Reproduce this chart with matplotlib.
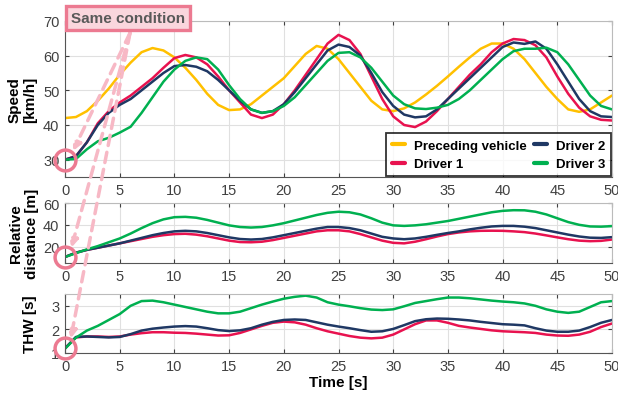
import numpy as np
import matplotlib.pyplot as plt

plt.rcParams['font.family'] = ['Liberation Sans', 'DejaVu Sans']

# time axis [s]
t = np.arange(0, 51)

# Speed [km/h]
speed_prec = [42.0, 42.3, 44.0, 47.0, 50.5, 54.5, 58.0, 61.0, 62.2, 61.5,
              59.5, 56.5, 53.0, 49.0, 45.8, 44.3, 44.5, 46.0, 48.5, 51.0,
              53.5, 57.0, 60.5, 62.8, 62.0, 59.0, 55.0, 51.0, 47.0, 44.5,
              44.0, 44.8, 46.5, 48.8, 51.3, 54.0, 56.8, 59.5, 62.0, 63.5,
              63.5, 62.0, 59.0, 55.0, 51.0, 47.5, 44.5, 43.8, 44.5, 46.5, 48.5]
speed_d1 = [30.0, 31.0, 35.0, 40.5, 44.0, 46.5, 48.5, 51.0, 53.5, 56.5,
            59.3, 60.2, 59.5, 57.5, 54.0, 50.0, 46.5, 43.0, 42.0, 43.0,
            46.0, 50.0, 54.5, 59.0, 63.5, 66.0, 64.5, 60.5, 54.0, 47.5,
            42.5, 40.0, 39.4, 41.0, 44.0, 47.5, 51.0, 54.5, 57.5, 61.0,
            63.5, 64.8, 64.5, 63.0, 59.5, 54.0, 49.0, 45.0, 42.5, 41.5, 41.3]
speed_d2 = [30.0, 31.0, 35.0, 40.0, 43.5, 45.8, 47.5, 50.0, 52.5, 55.0,
            57.0, 57.3, 56.8, 55.5, 53.0, 50.0, 47.0, 44.5, 43.5, 44.0,
            46.0, 49.5, 53.5, 57.5, 61.5, 63.2, 62.5, 60.0, 55.0, 49.5,
            45.5, 43.0, 42.2, 42.5, 44.5, 47.5, 50.5, 53.5, 56.5, 59.5,
            62.5, 63.8, 63.4, 64.1, 62.0, 57.5, 52.5, 47.5, 44.0, 42.5, 42.3]
speed_d3 = [30.0, 30.2, 33.0, 35.3, 36.3, 37.8, 39.5, 43.5, 48.0, 52.5,
            56.0, 58.5, 59.5, 59.0, 56.0, 51.5, 47.5, 44.5, 43.5, 44.0,
            45.5, 48.0, 51.5, 55.0, 58.5, 60.8, 61.0, 59.5, 56.5, 52.5,
            48.5, 46.0, 44.8, 44.6, 45.0, 45.8, 47.5, 50.0, 53.0, 56.0,
            59.0, 61.3, 62.0, 62.0, 62.3, 61.0, 57.5, 53.0, 48.5, 45.5, 44.5]

# Relative distance [m]
dist_d1 = [10.5, 14.5, 17.0, 19.0, 21.0, 23.0, 25.0, 27.0, 29.0, 30.5,
           31.5, 31.8, 31.0, 29.5, 27.5, 25.5, 24.2, 24.0, 24.5, 26.0,
           28.0, 30.0, 32.0, 34.0, 35.0, 35.0, 34.0, 31.5, 28.5, 25.5,
           23.5, 23.0, 24.5, 26.8, 29.3, 31.5, 33.0, 34.0, 34.5, 34.6,
           34.5, 34.0, 33.3, 32.0, 30.3, 28.5, 26.8, 25.5, 25.0, 25.3, 26.5]
dist_d2 = [10.5, 14.5, 17.0, 19.0, 21.0, 23.0, 25.5, 28.0, 30.5, 32.5,
           34.0, 34.5, 34.0, 32.5, 30.5, 28.5, 27.0, 26.5, 27.0, 28.5,
           30.5, 32.5, 34.5, 36.5, 38.0, 38.0, 37.0, 35.0, 32.0, 29.0,
           27.5, 26.8, 27.5, 29.0, 30.8, 32.5, 34.0, 35.8, 37.3, 38.5,
           39.0, 39.0, 38.3, 37.0, 35.0, 33.0, 31.0, 29.3, 28.2, 28.0, 28.7]
dist_d3 = [10.5, 14.0, 17.5, 20.5, 24.0, 27.5, 32.0, 37.0, 41.5, 45.0,
           47.0, 47.3, 46.5, 44.5, 42.0, 39.5, 38.0, 37.5, 38.0, 39.5,
           41.5, 44.0, 46.5, 49.0, 51.0, 52.0, 51.5, 49.5, 46.0, 42.0,
           39.5, 39.0, 39.5, 40.5, 42.0, 43.5, 45.5, 47.5, 49.5, 51.5,
           52.8, 53.4, 53.3, 52.0, 49.5, 46.0, 42.5, 40.0, 38.5, 38.3, 38.8]

# THW [s]
thw_d1 = [1.2, 1.66, 1.7, 1.7, 1.68, 1.7, 1.78, 1.84, 1.88, 1.88,
          1.86, 1.85, 1.82, 1.78, 1.74, 1.75, 1.85, 2.0, 2.15, 2.28,
          2.33, 2.3, 2.2, 2.05, 1.92, 1.82, 1.72, 1.65, 1.62, 1.65,
          1.78, 2.0, 2.22, 2.38, 2.38, 2.28, 2.15, 2.08, 2.02, 1.96,
          1.92, 1.9, 1.88, 1.85, 1.78, 1.74, 1.73, 1.78, 1.9, 2.1, 2.25]
thw_d2 = [1.2, 1.68, 1.7, 1.68, 1.66, 1.68, 1.8, 1.95, 2.03, 2.08,
          2.12, 2.14, 2.12, 2.05, 1.97, 1.93, 1.96, 2.05, 2.2, 2.32,
          2.4, 2.42, 2.4, 2.3, 2.2, 2.12, 2.05, 1.97, 1.9, 1.92,
          2.02, 2.18, 2.35, 2.43, 2.46, 2.45, 2.42, 2.38, 2.32, 2.27,
          2.22, 2.2, 2.17, 2.05, 1.95, 1.9, 1.9, 1.95, 2.1, 2.28, 2.4]
thw_d3 = [1.18, 1.65, 1.95, 2.15, 2.4, 2.65, 3.0, 3.2, 3.22, 3.15,
          3.05, 2.95, 2.85, 2.75, 2.68, 2.68, 2.75, 2.9, 3.05, 3.18,
          3.3, 3.38, 3.43, 3.35, 3.15, 3.05, 2.98, 2.9, 2.84, 2.82,
          2.85, 2.98, 3.12, 3.2, 3.28, 3.35, 3.35, 3.32, 3.27, 3.22,
          3.18, 3.15, 3.1, 3.0, 2.85, 2.75, 2.7, 2.75, 2.95, 3.15, 3.2]

c_prec = '#FFC000'
c_d1 = '#E8124F'
c_d2 = '#1F3864'
c_d3 = '#00B050'
pink = '#EC7A91'
pale = '#F7B8C5'

fig = plt.figure(figsize=(6.18, 4.02), dpi=100)
ax1 = fig.add_axes([65/618, 1-178/402, 547/618, 156/402])
ax2 = fig.add_axes([65/618, 1-264/402, 547/618, 60/402])
ax3 = fig.add_axes([65/618, 1-354/402, 547/618, 59/402])

lw = 1.8
style = dict(lw=lw, solid_joinstyle='round', solid_capstyle='round')
ax1.plot(t, speed_prec, color=c_prec, label='Preceding vehicle', **style)
ax1.plot(t, speed_d1, color=c_d1, label='Driver 1', **style)
ax1.plot(t, speed_d2, color=c_d2, label='Driver 2', **style)
ax1.plot(t, speed_d3, color=c_d3, label='Driver 3', **style)
ax1.set_ylim(25, 70)
ax1.set_yticks([30, 40, 50, 60, 70])
ax1.set_ylabel('Speed\n[km/h]', fontweight='bold', fontsize=11, labelpad=4)
leg = ax1.legend(ncol=2, loc='lower right', frameon=True,
                 fancybox=False, edgecolor='black', borderaxespad=0.05,
                 handlelength=1.0, columnspacing=0.5, handletextpad=0.7,
                 borderpad=0.45, labelspacing=0.5,
                 prop={'weight': 'bold', 'size': 9.5})
leg.get_frame().set_linewidth(1.3)
for h in leg.get_lines():
    h.set_linewidth(3)

ax2.plot(t, dist_d1, color=c_d1, **style)
ax2.plot(t, dist_d2, color=c_d2, **style)
ax2.plot(t, dist_d3, color=c_d3, **style)
ax2.set_ylim(5, 60)
ax2.set_yticks([20, 40, 60])
ax2.set_ylabel('Relative\ndistance [m]', fontweight='bold', fontsize=11, labelpad=3)

ax3.plot(t, thw_d1, color=c_d1, **style)
ax3.plot(t, thw_d2, color=c_d2, **style)
ax3.plot(t, thw_d3, color=c_d3, **style)
ax3.set_ylim(1, 3.5)
ax3.set_yticks([1, 2, 3])
ax3.set_ylabel('THW [s]', fontweight='bold', fontsize=11, labelpad=10)
ax3.set_xlabel('Time [s]', fontweight='bold', fontsize=11, labelpad=2)

for ax in (ax1, ax2, ax3):
    ax.set_xlim(0, 50)
    ax.set_xticks(range(0, 51, 5))
    ax.grid(True, color='#E0E0E0', lw=0.8)
    ax.set_axisbelow(True)
    ax.tick_params(direction='in', length=3, colors='#404040', labelsize=10.5,
                   top=True, right=True, pad=4)
    for s in ax.spines.values():
        s.set_color('#555555')
        s.set_linewidth(0.8)
    ax.spines['top'].set_color('#BBBBBB')
    ax.spines['right'].set_color('#BBBBBB')

# "Same condition" box with dashed arrows to the common start points
fig.text(128/618, 1-19/402, 'Same condition', ha='center', va='center',
         fontsize=11, fontweight='bold', color='#595959',
         bbox=dict(boxstyle='square,pad=0.35', fc='#FAD6DD', ec=pink, lw=2.4))

starts = [(ax1, speed_d1[0]), (ax2, dist_d1[0]), (ax3, thw_d1[0])]
for ax, y0 in starts:
    ax.plot(0, y0, 'o', ms=15, mfc='none', mec=pink, mew=2.5,
            clip_on=False, zorder=6)
    ax.annotate('', xy=(0.35, y0), xycoords='data',
                xytext=(130/618, 1-34/402), textcoords='figure fraction',
                arrowprops=dict(arrowstyle='-|>', color=pale, lw=2.5,
                                linestyle=(0, (3, 2)), shrinkA=0, shrinkB=7,
                                mutation_scale=12),
                annotation_clip=False, zorder=5)

fig.savefig('out.png', dpi=100)
